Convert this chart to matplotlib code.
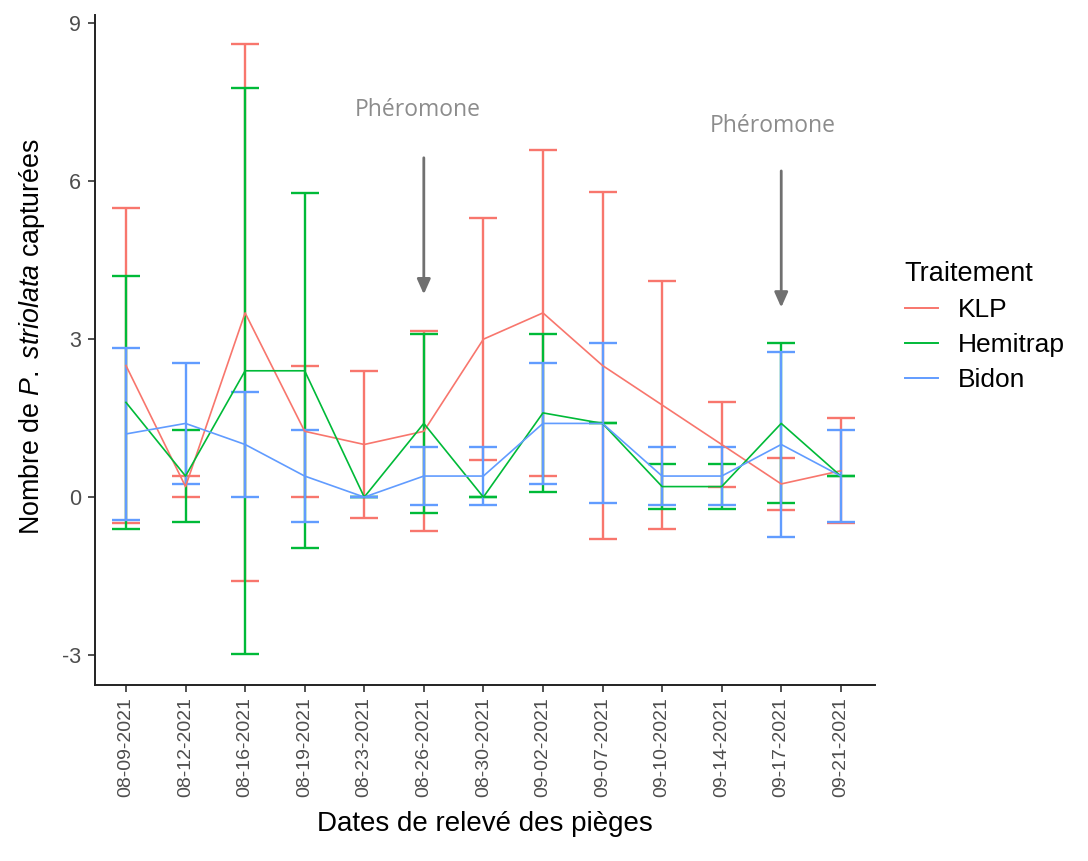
import matplotlib
matplotlib.use("Agg")
import matplotlib.pyplot as plt
from matplotlib.lines import Line2D
import numpy as np

plt.rcParams['font.family'] = ['Liberation Sans', 'DejaVu Sans']
plt.rcParams['mathtext.fontset'] = 'custom'
plt.rcParams['mathtext.it'] = 'Liberation Sans:italic'
plt.rcParams['mathtext.rm'] = 'Liberation Sans'

dates = ["08-09-2021", "08-12-2021", "08-16-2021", "08-19-2021", "08-23-2021",
         "08-26-2021", "08-30-2021", "09-02-2021", "09-07-2021", "09-10-2021",
         "09-14-2021", "09-17-2021", "09-21-2021"]

klp_mean = [2.5, 0.2, 3.5, 1.25, 1.0, 1.25, 3.0, 3.5, 2.5, 1.75, 1.0, 0.25, 0.5]
klp_sd = [3.0, 0.2, 5.1, 1.25, 1.4, 1.9, 2.3, 3.1, 3.3, 2.35, 0.8, 0.5, 1.0]

hemi_mean = [1.8, 0.4, 2.4, 2.4, 0.0, 1.4, 0.0, 1.6, 1.4, 0.2, 0.2, 1.4, 0.4]
hemi_sd = [2.4, 0.87, 5.38, 3.37, 0.0, 1.7, 0.0, 1.5, 0.0, 0.43, 0.43, 1.52, 0.0]

bidon_mean = [1.2, 1.4, 1.0, 0.4, 0.0, 0.4, 0.4, 1.4, 1.4, 0.4, 0.4, 1.0, 0.4]
bidon_sd = [1.64, 1.15, 1.0, 0.87, 0.0, 0.55, 0.55, 1.15, 1.52, 0.55, 0.55, 1.75, 0.87]

series = [
    ("KLP", klp_mean, klp_sd, "#F8766D"),
    ("Hemitrap", hemi_mean, hemi_sd, "#00BA38"),
    ("Bidon", bidon_mean, bidon_sd, "#619CFF"),
]

pheromone_dates = ["08-26-2021", "09-17-2021"]

fig = plt.figure(figsize=(10.88, 8.61), dpi=100)
ax = fig.add_axes([0.0873, 0.2044, 0.7167, 0.7782])

x = np.arange(len(dates))
for name, m, s, c in series:
    ax.errorbar(x, m, yerr=s, color=c, linewidth=1.2, elinewidth=1.7,
                capsize=10, capthick=1.7, zorder=3)

# pheromone application markers
text_offsets = [-0.1, -0.15]
text_y = [7.36, 7.05]
arrow_top = [6.5, 6.25]
arrow_bot = [3.8, 3.55]
for d, dx, ty, at, ab in zip(pheromone_dates, text_offsets, text_y, arrow_top, arrow_bot):
    xi = dates.index(d)
    ax.text(xi + dx, ty, "Phéromone", ha="center", va="center", color="#8C8C8C",
            fontsize=16.5, family=["Open Sans", "DejaVu Sans"], zorder=4)
    ax.annotate("", xy=(xi, ab), xytext=(xi, at),
                arrowprops=dict(arrowstyle="-|>,head_length=0.9,head_width=0.4",
                                color="#707070", lw=2), zorder=4)

ax.set_xlim(-0.52, 12.57)
ax.set_ylim(-3.57, 9.16)
ax.set_xticks(x)
ax.set_xticklabels(dates, rotation=90, fontsize=14, color="#4D4D4D")
ax.set_yticks([-3, 0, 3, 6, 9])
ax.set_yticklabels(["-3", "0", "3", "6", "9"], fontsize=15.5, color="#4D4D4D")
ax.tick_params(axis="both", length=5, width=1.2, color="#333333")
ax.tick_params(axis="y", pad=5)

for sp in ["top", "right"]:
    ax.spines[sp].set_visible(False)
for sp in ["left", "bottom"]:
    ax.spines[sp].set_linewidth(1.4)
    ax.spines[sp].set_color("#222222")

ax.set_xlabel("Dates de relevé des pièges", fontsize=20, labelpad=10)
ax.set_ylabel("Nombre de $\\mathit{P.\\ striolata}$ capturées", fontsize=19.3)
ax.yaxis.set_label_coords(-0.062, 0.52)

handles = [Line2D([0], [0], color=c, lw=1.4) for _, _, _, c in series]
labels = [n for n, _, _, _ in series]
leg = ax.legend(handles, labels, title="Traitement", loc="upper left",
                bbox_to_anchor=(1.008, 0.668), frameon=False, fontsize=19,
                title_fontsize=19.5, handlelength=1.25, handletextpad=0.75,
                labelspacing=0.42, alignment="left")

fig.savefig("out.png", dpi=100, facecolor="white")
